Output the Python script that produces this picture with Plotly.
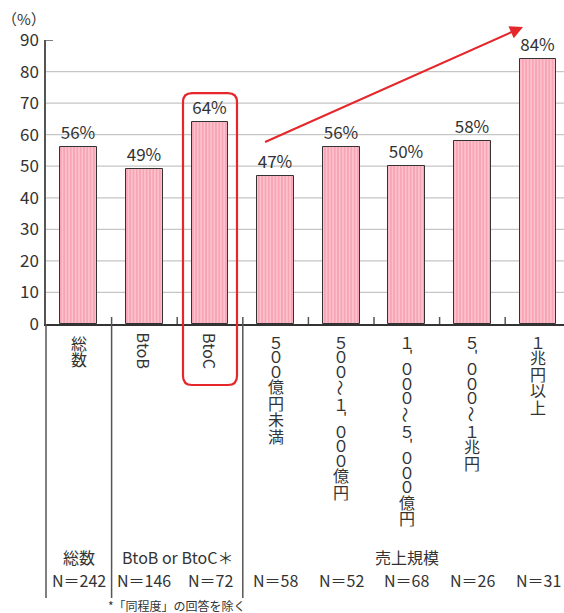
import plotly.graph_objects as go

# ---- data -------------------------------------------------------------
categories = ["総数", "BtoB", "BtoC", "500億円未満", "500～1,000億円",
              "1,000～5,000億円", "5,000～1兆円", "1兆円以上"]
values = [56, 49, 64, 47, 56, 50, 58, 84]
sample_sizes = [242, 146, 72, 58, 52, 68, 26, 31]
y_ticks = [0, 10, 20, 30, 40, 50, 60, 70, 80, 90]
group_labels = ["総数", "BtoB or BtoC＊", "売上規模"]
group_members = [[0], [1, 2], [3, 4, 5, 6, 7]]
footnote = "*「同程度」の回答を除く"
highlight_index = 2

# ---- geometry ---------------------------------------------------------
W, H = 564, 613
ML, MT, MB = 46, 40, 289
PLOT_W = W - ML
PLOT_H = H - MT - MB
CAT_W = 65.6
X_MAX = PLOT_W / CAT_W - 0.5
FONT = "Noto Sans CJK JP"
INK = "#333333"
RED = "#e5262b"


def xp(px):
    return (px - ML) / PLOT_W


def yp(py):
    return (MT + PLOT_H - py) / PLOT_H


def cat_px(i):
    return ML + (i + 0.5) * CAT_W


def val_py(v):
    return MT + PLOT_H - v * PLOT_H / 90.0


def text_note(text, x, y, size=16, xref="x", angle=0, box_h=None):
    note = dict(text=text, xref=xref, yref="paper", x=x, y=y,
                xanchor="center", yanchor="middle", textangle=angle,
                showarrow=False, borderpad=0,
                font=dict(family=FONT, size=size, color=INK))
    if box_h is not None:
        note["height"] = box_h
    return note


fig = go.Figure()
fig.add_trace(go.Bar(
    x=list(range(len(categories))),
    y=values,
    width=0.56,
    marker=dict(
        color="#fcc1cc",
        pattern=dict(shape="|", fgcolor="#f2879c", bgcolor="#fcc1cc",
                     size=3.3, solidity=0.5),
        line=dict(color=INK, width=1),
    ),
    texttemplate="%{y}%",
    textposition="outside",
    textfont=dict(family=FONT, size=17, color=INK),
    cliponaxis=False,
    hoverinfo="skip",
))

shapes = []
# horizontal grid
for v in y_ticks[1:-1]:
    shapes.append(dict(type="line", xref="paper", yref="y", x0=0, x1=1,
                       y0=v, y1=v, line=dict(color="#c6c6c6", width=1.2),
                       layer="below"))
# short tick at the top value
shapes.append(dict(type="line", xref="paper", yref="y", x0=0, x1=xp(ML + 7),
                   y0=y_ticks[-1], y1=y_ticks[-1],
                   line=dict(color="#555555", width=1.5)))

# table separators and category ticks
axis_py = val_py(0)
table_bottom = 598
shapes.append(dict(type="line", xref="paper", yref="paper",
                   x0=0, x1=0, y0=yp(axis_py), y1=yp(table_bottom),
                   line=dict(color="#555555", width=1.5)))
group_edges = set()
for members in group_members[1:]:
    group_edges.add(members[0] - 0.5)
for k in range(len(categories) - 1):
    b = k + 0.5
    bottom = table_bottom if b in group_edges else axis_py
    shapes.append(dict(type="line", xref="x", yref="paper",
                       x0=b, x1=b, y0=yp(axis_py - 7), y1=yp(bottom),
                       line=dict(color="#555555", width=1.5)))

# rounded highlight frame
cx = cat_px(highlight_index)
x0, x1 = cx - 27, cx + 27
y0, y1 = val_py(values[highlight_index]) - 29, 385
r = 9
pts = [
    ("M", (x0 + r, y0)), ("L", (x1 - r, y0)), ("Q", (x1, y0), (x1, y0 + r)),
    ("L", (x1, y1 - r)), ("Q", (x1, y1), (x1 - r, y1)),
    ("L", (x0 + r, y1)), ("Q", (x0, y1), (x0, y1 - r)),
    ("L", (x0, y0 + r)), ("Q", (x0, y0), (x0 + r, y0)),
]
path = ""
for cmd, *coords in pts:
    path += cmd + " ".join(f"{xp(a):.5f},{yp(b):.5f}" for a, b in coords) + " "
path += "Z"
shapes.append(dict(type="path", xref="paper", yref="paper", path=path,
                   line=dict(color=RED, width=2.2)))

annotations = []
# y-axis unit
annotations.append(text_note("（%）", xp(24), yp(19), size=15, xref="paper"))

# trend arrow over the sales-size group
tail = (cat_px(3) - 12, val_py(values[3]) - 33)
tip = (523, 27)
annotations.append(dict(text="", xref="paper", yref="paper",
                        x=xp(tip[0]), y=yp(tip[1]),
                        ax=tail[0] - tip[0], ay=tail[1] - tip[1],
                        showarrow=True, arrowhead=2, arrowsize=1.3,
                        arrowwidth=2, arrowcolor=RED, standoff=0))

# vertical (tategaki) category labels, one glyph per cell
FULL = str.maketrans("0123456789", "０１２３４５６７８９")


def char_height(ch):
    if ch.isdigit():
        return 14.5
    if ch == ",":
        return 12
    if ch == "～":
        return 19
    return 16.5


label_top = 335
for i, cat in enumerate(categories):
    if cat.isascii():
        annotations.append(text_note(cat, i, yp(label_top + 16), angle=90))
        continue
    pos = label_top
    for ch in cat:
        h = char_height(ch)
        cy = pos + h / 2
        pos += h
        if ch.isdigit():
            annotations.append(text_note(ch.translate(FULL), i, yp(cy),
                                         box_h=h))
        elif ch == ",":
            # comma sits in the upper right of its cell in vertical writing
            annotations.append(text_note("'", i + 4 / CAT_W, yp(cy - 2),
                                         size=15, box_h=h))
        elif ch == "～":
            annotations.append(text_note("～", i, yp(cy), angle=90))
        else:
            annotations.append(text_note(ch, i, yp(cy), box_h=h))

# table rows
for label, members in zip(group_labels, group_members):
    cxm = (members[0] + members[-1]) / 2
    annotations.append(text_note(label, cxm, yp(557), box_h=18))
for i, n in enumerate(sample_sizes):
    annotations.append(text_note(f"N＝{n}", i, yp(580), box_h=18))
annotations.append(text_note(footnote, 1.5, yp(605), size=12, box_h=14))

fig.update_layout(
    width=W, height=H,
    margin=dict(l=ML, r=0, t=MT, b=MB, pad=0),
    paper_bgcolor="white", plot_bgcolor="white",
    showlegend=False,
    bargap=0,
    shapes=shapes,
    annotations=annotations,
    xaxis=dict(range=[-0.5, X_MAX], showticklabels=False, ticks="",
               showgrid=False, zeroline=False, showline=True,
               linecolor="#333333", linewidth=1.5, fixedrange=True),
    yaxis=dict(range=[0, 90], tickvals=y_ticks, ticks="", showgrid=False,
               zeroline=False, showline=True, linecolor="#555555",
               linewidth=1.5, ticklabelstandoff=2,
               tickfont=dict(family=FONT, size=17, color=INK),
               fixedrange=True),
)

fig.write_html("out.html")
